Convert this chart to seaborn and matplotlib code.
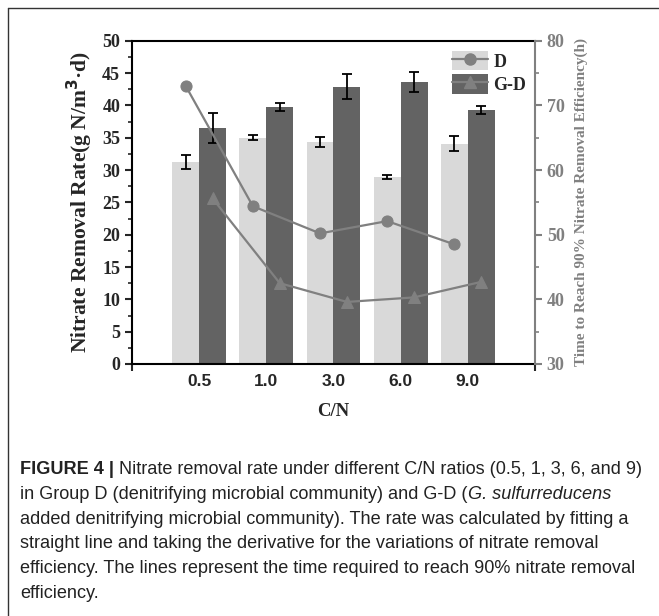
import numpy as np
import pandas as pd
import matplotlib
matplotlib.use("Agg")
import matplotlib.pyplot as plt
import seaborn as sns
from matplotlib.lines import Line2D
from matplotlib.patches import Patch
from matplotlib.legend_handler import HandlerTuple

# data
cn_labels = ["0.5", "1.0", "3.0", "6.0", "9.0"]
groups = ["D", "G-D"]
rate_d = [31.3, 35.0, 34.3, 28.9, 34.1]
rate_gd = [36.5, 39.7, 42.9, 43.6, 39.3]
err_d = [1.1, 0.35, 0.8, 0.35, 1.1]
err_gd = [2.3, 0.6, 1.95, 1.5, 0.6]
time_d = [73.0, 54.4, 50.2, 52.1, 48.5]
time_gd = [55.6, 42.5, 39.6, 40.3, 42.7]

caption = [
    [("FIGURE 4 | ", "bold", "normal"),
     ("Nitrate removal rate under different C/N ratios (0.5, 1, 3, 6, and 9)", "normal", "normal")],
    [("in Group D (denitrifying microbial community) and G-D (", "normal", "normal"),
     ("G. sulfurreducens", "normal", "italic")],
    [("added denitrifying microbial community). The rate was calculated by fitting a", "normal", "normal")],
    [("straight line and taking the derivative for the variations of nitrate removal", "normal", "normal")],
    [("efficiency. The lines represent the time required to reach 90% nitrate removal", "normal", "normal")],
    [("efficiency.", "normal", "normal")],
]

bar_colors = {"D": "#d9d9d9", "G-D": "#636363"}
line_color = "#808080"
serif = "Liberation Serif"
sans = "Liberation Sans"

df = pd.DataFrame({
    "C/N": cn_labels * 2,
    "group": ["D"] * 5 + ["G-D"] * 5,
    "rate": rate_d + rate_gd,
    "err": err_d + err_gd,
})

sns.set_style("white")
fig = plt.figure(figsize=(6.59, 6.16), dpi=100)
ax = fig.add_axes([0.2003, 0.4091, 0.6115, 0.5248])

sns.barplot(data=df, x="C/N", y="rate", hue="group", order=cn_labels, hue_order=groups,
            palette=bar_colors, width=0.8, errorbar=None, saturation=1, ax=ax, legend=False,
            linewidth=0, edgecolor="none")

# centers of each bar, per group, taken from drawn patches
centers = {}
for i, g in enumerate(groups):
    patches = ax.patches[i * 5:(i + 1) * 5]
    xs = [p.get_x() + p.get_width() / 2 for p in patches]
    centers[g] = xs
    sub = df[df["group"] == g]
    ax.errorbar(xs, sub["rate"], yerr=sub["err"], fmt="none", ecolor="black",
                elinewidth=1.3, capsize=3.5, capthick=1.3, zorder=5)

ax.set_xlim(-1, 5)
ax.set_ylim(0, 50)
ax.set_yticks(np.arange(0, 51, 5))
ax.set_yticks(np.arange(2.5, 50, 5), minor=True)
ax.tick_params(axis="y", which="major", direction="out", length=5, width=1.5, left=True)
ax.tick_params(axis="y", which="minor", direction="out", length=3, width=1.2, left=True)
ax.tick_params(axis="x", which="major", length=0, pad=7)
ax.set_xticks([-1, 5], minor=True)
ax.tick_params(axis="x", which="minor", direction="out", length=5, width=1.5, bottom=True)
for lab in ax.get_yticklabels():
    lab.set_fontfamily(serif)
    lab.set_fontweight("bold")
    lab.set_fontsize(13)
for lab in ax.get_xticklabels():
    lab.set_fontfamily(sans)
    lab.set_fontweight("bold")
    lab.set_fontsize(12.5)
ax.set_xlabel("C/N", fontfamily=serif, fontweight="bold", fontsize=13.5, labelpad=10)
ax.set_ylabel("Nitrate Removal Rate(g N/m$^\\mathbf{3}$·d)", fontfamily=serif,
              fontweight="bold", fontsize=15.5, labelpad=5)
for s in ["left", "bottom", "top"]:
    ax.spines[s].set_color("black")
    ax.spines[s].set_linewidth(1.5)
ax.spines["right"].set_visible(False)

ax2 = ax.twinx()
lines_df = pd.DataFrame({
    "x": centers["D"] + centers["G-D"],
    "time": time_d + time_gd,
    "group": ["D"] * 5 + ["G-D"] * 5,
})
sns.lineplot(data=lines_df, x="x", y="time", hue="group", style="group",
             palette={"D": line_color, "G-D": line_color},
             markers={"D": "o", "G-D": "^"}, dashes=False, markersize=8,
             markeredgecolor=line_color, linewidth=1.6, ax=ax2, legend=False)
ax2.set_ylim(30, 80)
ax2.set_yticks(np.arange(30, 81, 10))
ax2.set_yticks(np.arange(35, 80, 10), minor=True)
ax2.tick_params(axis="y", which="major", direction="out", length=5, width=1.5, colors=line_color, right=True)
ax2.tick_params(axis="y", which="minor", direction="out", length=3, width=1.2, colors=line_color, right=True)
for lab in ax2.get_yticklabels():
    lab.set_fontfamily(serif)
    lab.set_fontweight("bold")
    lab.set_fontsize(13)
ax2.set_xlabel("")
ax2.set_ylabel("Time to Reach 90% Nitrate Removal Efficiency(h)", fontfamily=serif,
               fontweight="bold", fontsize=11, color=line_color, labelpad=7)
ax2.spines["right"].set_color(line_color)
ax2.spines["right"].set_linewidth(1.5)
for s in ["left", "bottom", "top"]:
    ax2.spines[s].set_visible(False)
ax2.set_xlim(-1, 5)

handles = []
for g, m in zip(groups, ["o", "^"]):
    patch = Patch(facecolor=bar_colors[g], edgecolor="none")
    ln = Line2D([], [], color=line_color, marker=m, markersize=8, linewidth=1.6)
    handles.append((patch, ln))
leg = ax2.legend(handles, groups, handler_map={tuple: HandlerTuple(ndivide=1, pad=0)},
                 loc="upper right", bbox_to_anchor=(1.01, 1.008), frameon=False,
                 handlelength=2.0, handleheight=1.3, handletextpad=0.3, labelspacing=0.2,
                 borderpad=0.2, prop={"family": serif, "weight": "bold", "size": 13})

# outer frame (left and top edges)
fig.add_artist(Line2D([7.5 / 659, 7.5 / 659], [0, 1 - 8 / 616], color="#333333", linewidth=1))
fig.add_artist(Line2D([7.5 / 659, 1], [1 - 8 / 616, 1 - 8 / 616], color="#333333", linewidth=1))

# caption, segment by segment
fig.canvas.draw()
renderer = fig.canvas.get_renderer()
y0 = 470
for i, segs in enumerate(caption):
    x_px = 20
    y_px = y0 + i * 24.6
    for txt, weight, style in segs:
        t = fig.text(x_px / 659, 1 - y_px / 616, txt, fontfamily=sans, fontsize=13.1,
                     fontweight=weight, fontstyle=style, va="center", ha="left", color="#222222")
        bb = t.get_window_extent(renderer=renderer)
        x_px += bb.width

fig.savefig("out.png", dpi=100)
